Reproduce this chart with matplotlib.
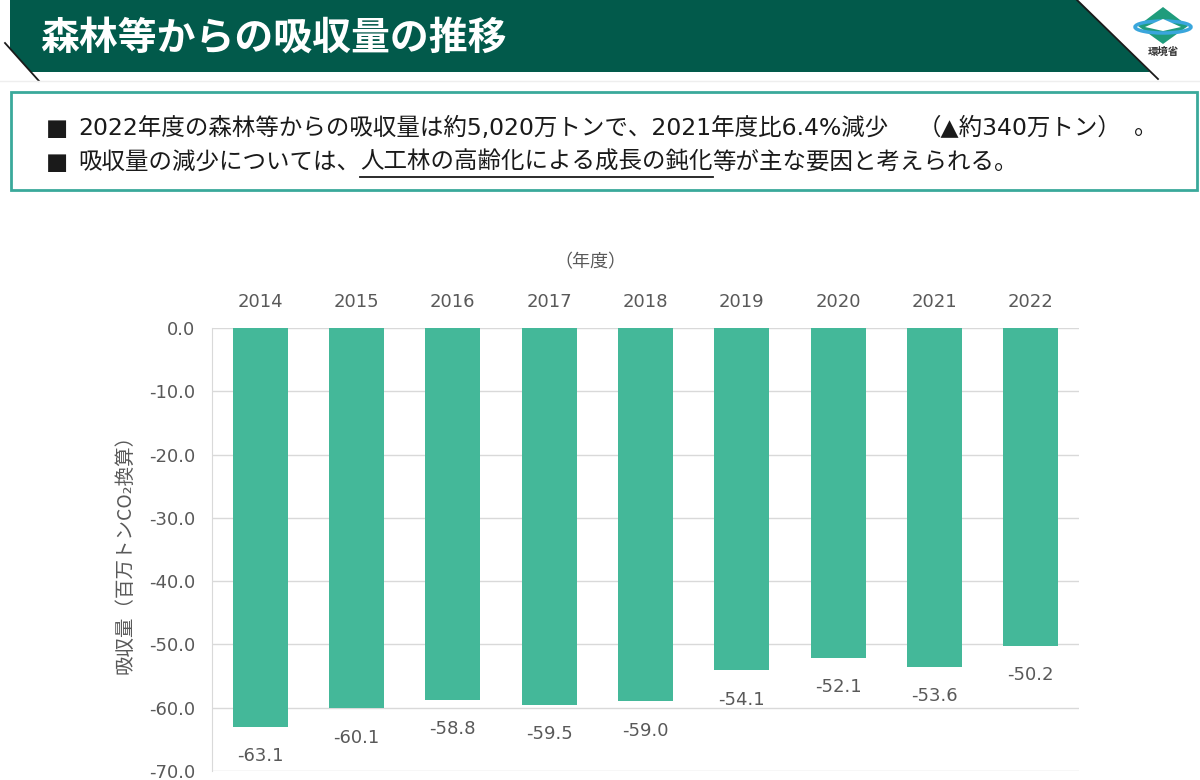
import matplotlib
matplotlib.use('Agg')
import matplotlib.pyplot as plt
from matplotlib.patches import Polygon, Rectangle, Ellipse

plt.rcParams['font.family'] = ['Noto Sans CJK JP', 'DejaVu Sans']
num_font = ['DejaVu Sans', 'Noto Sans CJK JP']

# data
years = ['2014', '2015', '2016', '2017', '2018', '2019', '2020', '2021', '2022']
removals = [-63.1, -60.1, -58.8, -59.5, -59.0, -54.1, -52.1, -53.6, -50.2]
yticks = [0, -10, -20, -30, -40, -50, -60, -70]

title = '森林等からの吸収量の推移'
line1_a = '2022年度の森林等からの吸収量は約5,020万トンで、2021年度比6.4%減少'
line1_b = '（▲約340万トン）'
line1_c = '。'
line2_a = '吸収量の減少については、'
line2_b = '人工林の高齢化による成長の鈍化'
line2_c = '等が主な要因と考えられる。'
ylabel = '吸収量（百万トンCO₂換算）'

W, H = 1200, 780
fig = plt.figure(figsize=(12, 7.8), dpi=100)

# background layer in pixel coords
bg = fig.add_axes([0, 0, 1, 1])
bg.set_xlim(0, W)
bg.set_ylim(H, 0)
bg.axis('off')

green = '#025a4b'
bg.add_patch(Polygon([(10, 0), (1077, 0), (1150, 72), (31, 72), (10, 48.6)],
                     closed=True, facecolor=green, edgecolor='none'))
bg.plot([5, 39], [43, 81], color='#1a1a1a', lw=1.3)
bg.plot([1077, 1158], [0, 79], color='#1a1a1a', lw=1.3)
bg.plot([0, W], [81, 81], color='#eeeeee', lw=1)
bg.text(40, 38, title, color='white', fontsize=28, fontweight='bold',
        va='center', ha='left')

# logo
bg.add_patch(Polygon([(1163, 7), (1188, 26), (1163, 44), (1138, 26)],
                     closed=True, facecolor='#1f9c7c', edgecolor='none'))
bg.add_patch(Ellipse((1163, 27), 56, 12, facecolor='none', edgecolor='#3aa6dc', lw=2.5))
bg.add_patch(Polygon([(1145, 27), (1163, 19), (1181, 27), (1163, 31)],
                     closed=True, facecolor='white', edgecolor='none'))
bg.text(1163, 52, '環境省', color='#333333', fontsize=7.5, fontweight='bold',
        ha='center', va='center')

# summary box
bg.add_patch(Rectangle((11, 92), 1186, 98, facecolor='white',
                       edgecolor='#3aa99b', lw=2))
txt_kw = dict(fontsize=16.9, color='#1a1a1a', va='center', ha='left',
              family=num_font)
bg.text(46, 128, '■', **txt_kw)
bg.text(78, 128, line1_a, **txt_kw)
bg.text(918, 128, line1_b, **txt_kw)
bg.text(1134, 128, line1_c, **txt_kw)
bg.text(46, 162, '■', **txt_kw)
t_a = bg.text(78, 162, line2_a, **txt_kw)

renderer = fig.canvas.get_renderer()
inv = bg.transData.inverted()
bb = t_a.get_window_extent(renderer)
xb = inv.transform((bb.x1, 0))[0]
t_b = bg.text(xb, 162, line2_b, **txt_kw)
bb2 = t_b.get_window_extent(renderer)
xc = inv.transform((bb2.x1, 0))[0]
bg.plot([xb, xc], [177, 177], color='#1a1a1a', lw=1.3)
bg.text(xc, 162, line2_c, **txt_kw)

bg.text(590, 262, '（年度）', fontsize=13, color='#595959', ha='center', va='center')

# chart
ax = fig.add_axes([212 / W, 1 - 771 / H, 867 / W, 443 / H])
ax.patch.set_alpha(0)
x = list(range(len(years)))
ax.bar(x, removals, width=0.57, color='#44b899', zorder=3)
for xi, v in zip(x, removals):
    ax.annotate(f'{v:.1f}', (xi, v), xytext=(0, -21), textcoords='offset points',
                ha='center', va='center', fontsize=13, color='#595959',
                family=num_font)

ax.set_xlim(-0.5, len(years) - 0.5)
ax.set_ylim(-70, 0)
ax.set_yticks(yticks)
ax.set_yticklabels([f'{t:.1f}' for t in yticks], family=num_font)
ax.set_xticks(x)
ax.set_xticklabels(years, family=num_font)
ax.xaxis.tick_top()
ax.tick_params(axis='x', length=0, pad=12, labelsize=13, labelcolor='#595959')
ax.tick_params(axis='y', length=0, pad=12, labelsize=13, labelcolor='#595959')
ax.grid(axis='y', color='#d9d9d9', lw=1, zorder=0)
for s in ['top', 'right', 'bottom']:
    ax.spines[s].set_visible(False)
ax.spines['left'].set_color('#d9d9d9')
ax.set_ylabel(ylabel, fontsize=14, color='#595959', labelpad=10)

fig.savefig('out.png', dpi=100)
